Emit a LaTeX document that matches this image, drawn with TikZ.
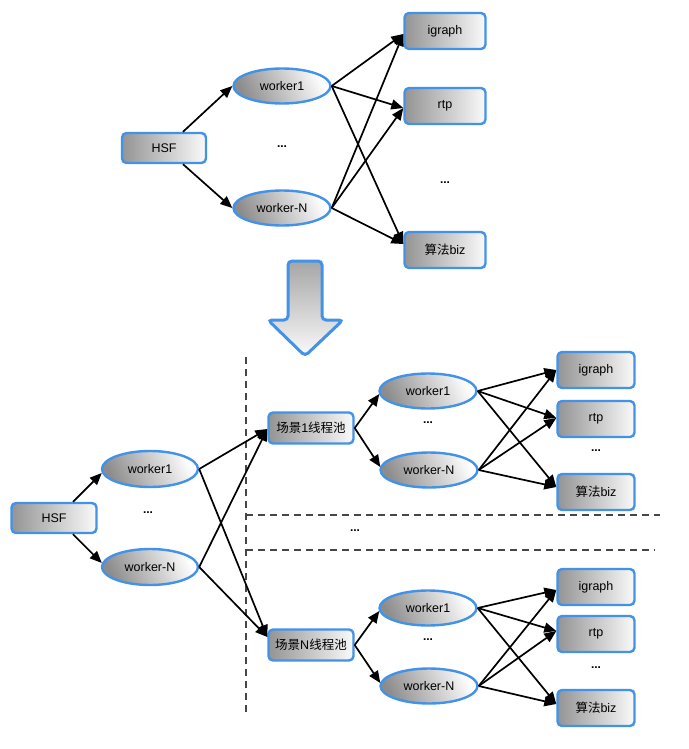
\documentclass[tikz,border=0pt]{standalone}
\usepackage{fontspec}
\setmainfont{Liberation Sans}
\newfontfamily\cjk{Noto Sans CJK SC}
\usetikzlibrary{arrows.meta,calc,shapes.geometric}
\definecolor{bblue}{RGB}{66,146,232}
\definecolor{dgray}{RGB}{70,70,70}
\tikzset{
 base/.style={draw=bblue, line width=2.4pt, font=\fontsize{12.5}{14}\selectfont, inner sep=1pt},
 box/.style={base, rectangle, rounded corners=4.5pt, left color=black!42, right color=black!2, minimum width=81pt, minimum height=36pt},
 sbox/.style={box, minimum width=77pt, minimum height=36pt},
 wk/.style={base, ellipse, top color=white, bottom color=black!45, shading angle=-65, minimum width=97pt, minimum height=35pt},
 conn/.style={-{Triangle[length=12pt,width=10pt]}, line width=1.7pt, black},
 sep/.style={dgray, line width=2pt, dash pattern=on 7pt off 5pt},
 dots/.style={font=\bfseries\fontsize{12}{14}\selectfont, inner sep=0pt}
}
\begin{document}
\begin{tikzpicture}[x=1pt,y=-1pt]
\useasboundingbox (0,0) rectangle (688,749);
% ---------- top diagram ----------
\node[box, minimum width=84pt, minimum height=30pt] (hsf) at (164,148) {HSF};
\node[wk] (w1) at (282,86) {worker1};
\node[wk] (wn) at (282,208) {worker-N};
\node[dots] (d1) at (282,147) {...};
\node[box] (ig) at (445,31) {igraph};
\node[box] (rt) at (445,106) {rtp};
\node[dots] (d2) at (445,183) {...};
\node[box] (bz) at (445,250) {{\cjk 算法}biz};
\draw[conn] ($(hsf.north)+(19,0)$) -- (w1.west);
\draw[conn] ($(hsf.south)+(19,0)$) -- (wn.west);
\foreach \s in {w1,wn}{
  \draw[conn] (\s.east) -- ($(ig.west)+(0,3)$);
  \draw[conn] (\s.east) -- ($(rt.west)+(0,2)$);
  \draw[conn] (\s.east) -- ($(bz.west)+(0,-6)$);
}
% ---------- big arrow ----------
\draw[bblue, line width=3pt, rounded corners=4pt, top color=black!35, bottom color=black!2]
  (288,261) -- (322,261) -- (322,320) -- (343,320) -- (305,356) -- (268,320) -- (288,320) -- cycle;
% ---------- separators ----------
\draw[sep] (246,357) -- (246,716);
\draw[sep] (246,515) -- (660,515);
\draw[sep] (246,550) -- (655,550);
\node[dots] (d3) at (355,531) {...};
% ---------- bottom diagram ----------
\node[box, minimum width=85pt, minimum height=30pt] (hsf2) at (54,518) {HSF};
\node[wk, minimum width=96pt, minimum height=36pt] (bw1) at (150,469) {worker1};
\node[dots] (d4) at (148,513) {...};
\node[wk, minimum width=96pt, minimum height=36pt] (bwn) at (150,567) {worker-N};
\node[box, minimum width=85pt, minimum height=31pt] (s1) at (311,428) {{\cjk 场景}1{\cjk 线程池}};
\node[box, minimum width=85pt, minimum height=31pt] (sn) at (311,645) {{\cjk 场景}N{\cjk 线程池}};
\draw[conn] ($(hsf2.north)+(19,0)$) -- ($(bw1.west)+(1,4)$);
\draw[conn] ($(hsf2.south)+(19,0)$) -- ($(bwn.west)+(1,-4)$);
\foreach \s in {bw1,bwn}{
  \draw[conn] (\s.east) -- ($(s1.west)+(0,1)$);
  \draw[conn] (\s.east) -- ($(sn.west)+(0,-8)$);
}
% group 1
\node[wk] (sw1) at (428,391) {worker1};
\node[dots] (d5) at (428,423) {...};
\node[wk] (swn) at (429,470) {worker-N};
\node[sbox] (ig1) at (596,370) {igraph};
\node[sbox] (rt1) at (596,419) {rtp};
\node[dots] (d6) at (596,451) {...};
\node[sbox] (bz1) at (596,492) {{\cjk 算法}biz};
\draw[conn] (s1.east) -- ($(sw1.west)+(1,3)$);
\draw[conn] (s1.east) -- ($(swn.west)+(1,-3)$);
\foreach \s in {sw1,swn}{
  \draw[conn] (\s.east) -- (ig1.west);
  \draw[conn] (\s.east) -- ($(rt1.west)+(0,-1)$);
  \draw[conn] (\s.east) -- ($(bz1.west)+(0,-5)$);
}
% group N
\node[wk] (tw1) at (428,608) {worker1};
\node[dots] (d7) at (428,640) {...};
\node[wk] (twn) at (429,686) {worker-N};
\node[sbox] (ig2) at (596,587) {igraph};
\node[sbox] (rt2) at (596,634) {rtp};
\node[dots] (d8) at (596,668) {...};
\node[sbox] (bz2) at (596,708) {{\cjk 算法}biz};
\draw[conn] (sn.east) -- ($(tw1.west)+(1,3)$);
\draw[conn] (sn.east) -- ($(twn.west)+(1,-3)$);
\foreach \s in {tw1,twn}{
  \draw[conn] (\s.east) -- ($(ig2.west)+(0,3)$);
  \draw[conn] (\s.east) -- ($(rt2.west)+(0,-3)$);
  \draw[conn] (\s.east) -- ($(bz2.west)+(0,-4)$);
}
\end{tikzpicture}
\end{document}
